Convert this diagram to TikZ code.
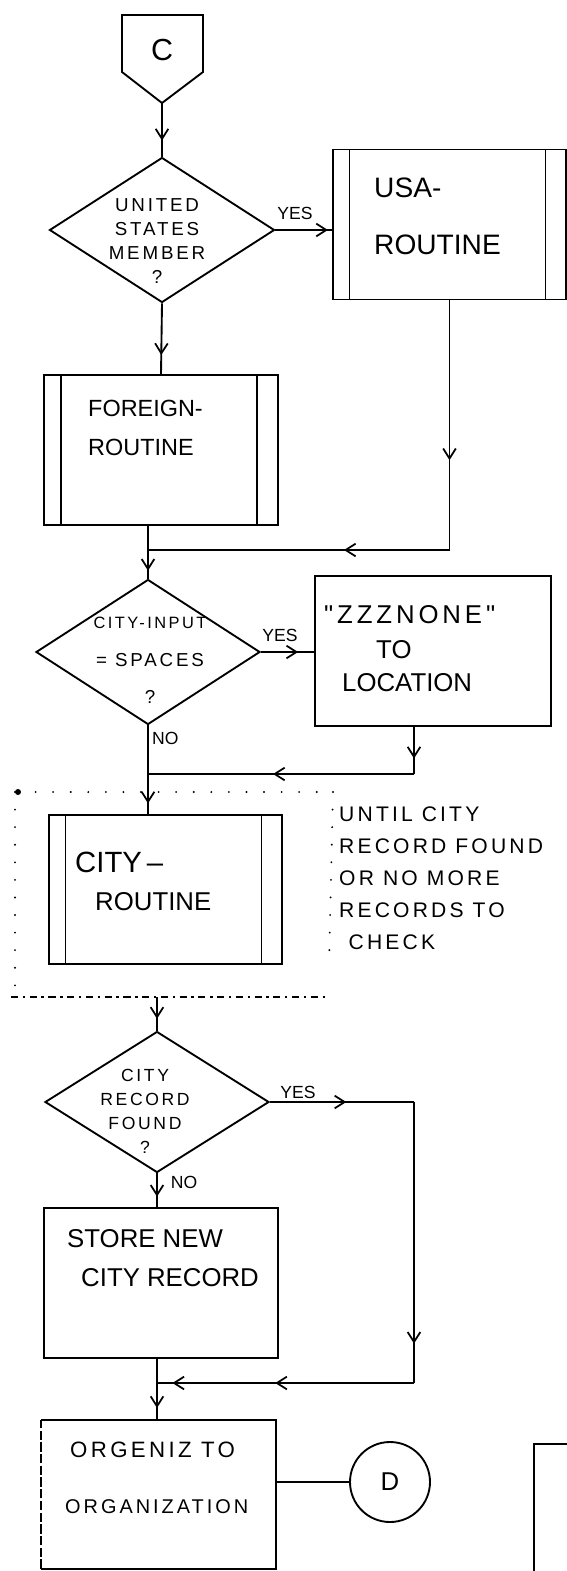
\documentclass[tikz,border=0pt]{standalone}
\usepackage{fontspec}
\usepackage{tikz}
\usetikzlibrary{arrows.meta,shapes.geometric,decorations.markings}
\newfontfamily\handfont{Liberation Sans}
\newfontfamily\widehand{Liberation Sans}[LetterSpace=15]
\newcommand{\handsize}[2]{\fontsize{#1}{#2}\selectfont}
\tikzset{
 flowline/.style={line width=1.6pt},
 flowbox/.style={
 rectangle,
 draw,
 line width=1.6pt,
 inner sep=0pt,
 minimum width=7cm,
 minimum height=4.5cm
 },
 routine/.style={
 flowbox,
 path picture={
 \draw[line width=1.6pt] ([xshift=0.5cm]path picture bounding box.north west) -- ([xshift=0.5cm]path picture bounding box.south west);
 \draw[line width=1.6pt] ([xshift=-0.62cm]path picture bounding box.north east) -- ([xshift=-0.62cm]path picture bounding box.south east);
 }
 },
 decision/.style={
 diamond,
 draw,
 line width=1.6pt,
 inner sep=0pt,
 minimum width=6.72cm,
 minimum height=4.35cm
 },
 textline/.style={inner sep=0pt, anchor=west, align=left},
 diamondtext/.style={inner sep=0pt, align=center},
 branchtext/.style={inner sep=0pt, font=\handfont\handsize{15pt}{17pt}},
 midarrow/.style={postaction={decorate, decoration={markings, mark=at position #1 with {\arrow{Straight Barb[length=3mm, width=3.8mm, line width=1.5pt]}}}}},
 midarrow/.default=0.5,
 loopdots/.style={line width=1.8pt, line cap=round, dash pattern=on 0pt off 15pt},
 loopdash/.style={line width=1.4pt, dash pattern=on 6pt off 4pt on 2pt off 4pt}
}

\begin{document}
\begin{tikzpicture}[x=0.03cm, y=-0.03cm]
	\fill[white] (0,0) rectangle (567,1571);
	\useasboundingbox (0,0) rectangle (567,1571);

	\draw[flowline] (122,15) -- (203,15) -- (203,72) -- (162,103) -- (122,72) -- cycle;
	\coordinate (ctip) at (162,103);
	\node[font=\handfont\handsize{26pt}{30pt}] (conC) at (162,50) {C};

	\node[decision, minimum width=6.75cm] (usmember) at (162,230) {};
	\node[diamondtext, font=\widehand\handsize{16pt}{20.5pt}] (usmembertxt) at (157,241) {UNITED\\STATES\\MEMBER\\?};
	\node[branchtext] (yesusa) at (295,213) {YES};

	\node[routine] (usa) at (449.5,224.5) {};
	\node[textline, font=\handfont\handsize{24pt}{48.7pt}] (usatxt) at (374,216.5) {USA-\\ROUTINE};

	\node[routine] (foreign) at (161,450) {};
	\node[textline, font=\handfont\handsize{20pt}{33.3pt}] (foreigntxt) at (88,427.5) {FOREIGN-\\ROUTINE};

	\node[decision] (citychk) at (148,652) {};
	\node[diamondtext, font=\widehand\handsize{16pt}{32pt}] (citychktxt) at (150,660.5) {{\fontsize{14pt}{32pt}\selectfont CITY-INPUT}\\= SPACES\\?};
	\node[branchtext] (yeszzz) at (280,635) {YES};
	\node[branchtext, anchor=west] (nocity) at (152,738) {NO};

	\node[flowbox, minimum width=7.08cm] (zzz) at (433,651) {};
	\node[textline, font=\widehand\handsize{22pt}{26pt}] (zzztxt) at (324,615) {"ZZZNONE"};
	\node[textline, font=\handfont\handsize{22pt}{26pt}] (zzzto) at (376,650) {TO};
	\node[textline, font=\handfont\handsize{22pt}{26pt}] (zzzloc) at (342,683) {LOCATION};

	\node[routine, minimum height=4.47cm] (city) at (165.5,889.5) {};
	\node[textline, font=\handfont\handsize{25pt}{30pt}] (citytxt) at (75,862) {CITY\,\textendash};
	\node[textline, font=\handfont\handsize{22pt}{26pt}] (cityrout) at (95,902) {ROUTINE};

	\draw[loopdots] (18,792) -- (333,792);
	\draw[loopdots] (333,792) -- (329,965);
	\draw[loopdots] (15,792) -- (15,997);
	\draw[loopdash] (11,997) -- (325,997);
	\fill (18,792) circle (3);
	\node[textline, font=\widehand\handsize{18pt}{27.3pt}] (untilnote) at (339,878.5) {UNTIL CITY\\RECORD FOUND\\OR NO MORE\\RECORDS TO\\\hspace*{8pt}CHECK};

	\node[decision, minimum height=4.23cm] (recfound) at (157,1102) {};
	\node[diamondtext, font=\widehand\handsize{15pt}{20.5pt}] (recfoundtxt) at (145,1111) {CITY\\RECORD\\FOUND\\?};
	\node[branchtext] (yesrec) at (298,1092) {YES};
	\node[branchtext] (norec) at (184,1182) {NO};

	\node[flowbox] (store) at (161,1283) {};
	\node[textline, font=\handfont\handsize{22pt}{26pt}] (storetxt) at (67,1239) {STORE NEW};
	\node[textline, font=\handfont\handsize{22pt}{26pt}] (storerec) at (81,1278) {CITY RECORD};

	\node[flowbox, draw=none, minimum height=4.4cm] (org) at (158.5,1494.5) {};
	\draw[flowline] (org.north west) -- (org.north east) -- (org.south east) -- (org.south west);
	\draw[flowline, dash pattern=on 8pt off 2pt] (org.south west) -- (org.north west);
	\node[textline, font=\widehand\handsize{19pt}{22pt}] (orgtxt) at (70,1450) {ORGENIZ TO};
	\node[textline, font=\widehand\handsize{17pt}{20pt}] (orgname) at (65,1507) {ORGANIZATION};

	\node[circle, draw, line width=1.6pt, minimum size=2.4cm, inner sep=0pt, font=\handfont\handsize{22pt}{26pt}] (conD) at (390,1482) {D};
	\node[flowbox, minimum width=3cm, minimum height=5cm, anchor=north west] (nextbox) at (533,1443) {};

	\coordinate (usaturn) at (449.5,550);
	\coordinate (joinA) at (148,550);
	\coordinate (zzzturn) at (414,774);
	\coordinate (joinB) at (148,774);
	\coordinate (loopout) at (157,997);
	\coordinate (yesturn) at (414,1102);
	\coordinate (storeturn) at (414,1383);
	\coordinate (joinC) at (157,1383);

	\draw[flowline, midarrow=0.7] (ctip) -- (usmember.north);
	\draw[flowline, midarrow=0.93] (usmember.east) -- (usmember.east -| usa.west);
	\draw[flowline, midarrow=0.73] (usmember.south) -- (foreign.north);
	\draw[flowline, midarrow=0.64] (usa.south) -- (usaturn);
	\draw[flowline, midarrow=0.35] (usaturn) -- (joinA);
	\draw[flowline, midarrow=0.85] (foreign.south -| citychk.north) -- (citychk.north);
	\draw[flowline, midarrow=0.7] (citychk.east) -- (citychk.east -| zzz.west);
	\draw[flowline, midarrow=0.67] (zzzturn |- zzz.south) -- (zzzturn);
	\draw[flowline, midarrow=0.53] (zzzturn) -- (joinB);
	\draw[flowline, midarrow=0.88] (citychk.south) -- (citychk.south |- city.north);
	\draw[flowline, midarrow=0.65] (loopout) -- (recfound.north);
	\draw[flowline, midarrow=0.53] (recfound.east) -- (yesturn);
	\draw[flowline, midarrow=0.86] (yesturn) -- (storeturn);
	\draw[flowline, midarrow=0.54, midarrow=0.94] (storeturn) -- (joinC);
	\draw[flowline, midarrow=0.69] (recfound.south) -- (recfound.south |- store.north);
	\draw[flowline, midarrow=0.8] (recfound.south |- store.south) -- (recfound.south |- org.north);
	\draw[flowline] (conD.west -| org.east) -- (conD.west);
\end{tikzpicture}
\end{document}
